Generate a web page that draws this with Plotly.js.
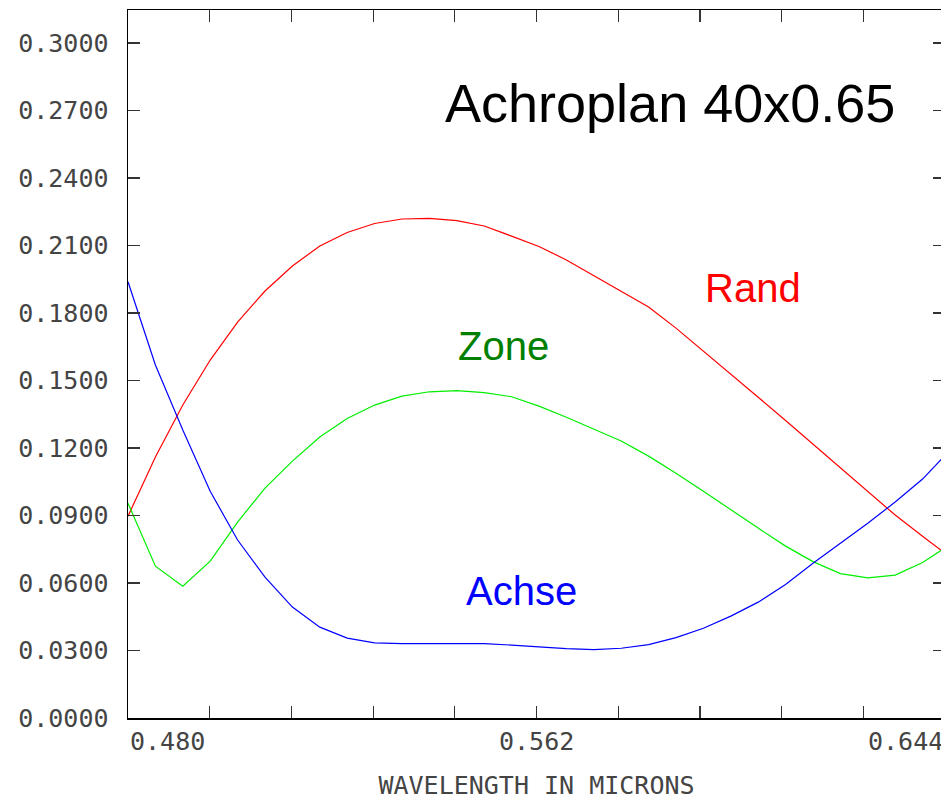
<!DOCTYPE html>
<html>
<head>
<meta charset="utf-8">
<script src="https://cdn.plot.ly/plotly-3.0.1.min.js"></script>
<style>
html, body { margin: 0; padding: 0; overflow: hidden; background: #fff; }
#chart { width: 950px; height: 800px; }
</style>
</head>
<body>
<div id="chart"></div>
<script>
// Wavelength samples (microns)
const wavelength = [0.4800, 0.4855, 0.4910, 0.4965, 0.5020, 0.5075, 0.5130, 0.5185, 0.5240, 0.5295,
                    0.5350, 0.5405, 0.5460, 0.5515, 0.5570, 0.5625, 0.5680, 0.5735, 0.5790, 0.5845,
                    0.5900, 0.5955, 0.6010, 0.6065, 0.6120, 0.6175, 0.6230, 0.6285, 0.6340, 0.6395, 0.6450];

// Rand (edge) series
const rand = [0.0897, 0.1160, 0.1391, 0.1591, 0.1760, 0.1898, 0.2009, 0.2098, 0.2158, 0.2198,
              0.2218, 0.2221, 0.2211, 0.2187, 0.2142, 0.2096, 0.2036, 0.1967, 0.1898, 0.1827,
              0.1733, 0.1631, 0.1531, 0.1426, 0.1322, 0.1217, 0.1113, 0.1006, 0.0902, 0.0808, 0.0715];

// Zone series
const zone = [0.0955, 0.0675, 0.0586, 0.0697, 0.0871, 0.1022, 0.1142, 0.1249, 0.1331, 0.1391,
              0.1431, 0.1450, 0.1455, 0.1446, 0.1428, 0.1386, 0.1337, 0.1284, 0.1231, 0.1164,
              0.1088, 0.1008, 0.0924, 0.0844, 0.0764, 0.0695, 0.0642, 0.0623, 0.0635, 0.0691, 0.0771];

// Achse (axis) series
const achse = [0.1939, 0.1569, 0.1280, 0.1008, 0.0791, 0.0626, 0.0493, 0.0404, 0.0355, 0.0334,
               0.0331, 0.0331, 0.0331, 0.0331, 0.0324, 0.0315, 0.0308, 0.0304, 0.0310, 0.0326,
               0.0357, 0.0399, 0.0453, 0.0515, 0.0593, 0.0688, 0.0777, 0.0866, 0.0960, 0.1062, 0.1191];

// Axis ticks and labels
const yTickVals = [0.00, 0.03, 0.06, 0.09, 0.12, 0.15, 0.18, 0.21, 0.24, 0.27, 0.30];
const yTickText = ["0.0000", "0.0300", "0.0600", "0.0900", "0.1200", "0.1500", "0.1800", "0.2100", "0.2400", "0.2700", "0.3000"];
const xTickVals = [0.4800, 0.4964, 0.5128, 0.5292, 0.5456, 0.5620, 0.5784, 0.5948, 0.6112, 0.6276, 0.6440];
const xLabelVals = [0.480, 0.562, 0.644];
const xLabelText = ["0.480", "0.562", "0.644"];
const xLabelAnchor = ["left", "center", "right"];

const chartTitle = "Achroplan 40x0.65";
const xTitle = "WAVELENGTH IN MICRONS";
const seriesLabels = [
  {text: "Rand", x: 0.6055, y: 0.1911, color: "#ff0000"},
  {text: "Zone", x: 0.5554, y: 0.1653, color: "#008000"},
  {text: "Achse", x: 0.5589, y: 0.0564, color: "#0000ff"}
];

const monoFont = {family: "DejaVu Sans Mono", size: 25, color: "#444444"};

const traces = [
  {x: wavelength, y: rand, mode: "lines", line: {color: "#ff0000", width: 1.2}, name: "Rand"},
  {x: wavelength, y: zone, mode: "lines", line: {color: "#00ee00", width: 1.2}, name: "Zone"},
  {x: wavelength, y: achse, mode: "lines", line: {color: "#0000ff", width: 1.2}, name: "Achse"}
];

const annotations = [];
xLabelVals.forEach((v, i) => {
  annotations.push({
    x: v, xref: "x", y: 0, yref: "paper", yshift: -7,
    text: xLabelText[i], showarrow: false, xanchor: xLabelAnchor[i], yanchor: "top",
    font: monoFont
  });
});
annotations.push({
  x: 0.5888, y: 0.2734, xref: "x", yref: "y", text: chartTitle, showarrow: false,
  xanchor: "center", yanchor: "middle",
  font: {family: "Liberation Sans, Arial, sans-serif", size: 54, color: "#000000"}
});
seriesLabels.forEach(s => {
  annotations.push({
    x: s.x, y: s.y, xref: "x", yref: "y", text: s.text, showarrow: false,
    xanchor: "center", yanchor: "middle",
    font: {family: "Liberation Sans, Arial, sans-serif", size: 40, color: s.color}
  });
});

const layout = {
  width: 950, height: 800,
  margin: {l: 128, r: 5, t: 10, b: 82},
  paper_bgcolor: "#ffffff", plot_bgcolor: "#ffffff",
  showlegend: false,
  xaxis: {
    range: [0.480, 0.644], showgrid: false, zeroline: false,
    showline: true, linecolor: "#000000", linewidth: 1.5, mirror: "ticks",
    ticks: "inside", ticklen: 12, tickwidth: 1.2, tickcolor: "#333333",
    tickmode: "array", tickvals: xTickVals, showticklabels: false,
    title: {text: xTitle, font: monoFont, standoff: 58}
  },
  yaxis: {
    range: [0, 0.3147], showgrid: false, zeroline: false,
    showline: true, linecolor: "#000000", linewidth: 1.5, mirror: "ticks",
    ticks: "inside", ticklen: 12, tickwidth: 1.2, tickcolor: "#333333",
    tickmode: "array", tickvals: yTickVals, ticktext: yTickText,
    tickfont: monoFont, ticklabelstandoff: 13
  },
  annotations: annotations
};

Plotly.newPlot("chart", traces, layout, {displayModeBar: false, staticPlot: true});
</script>
</body>
</html>
